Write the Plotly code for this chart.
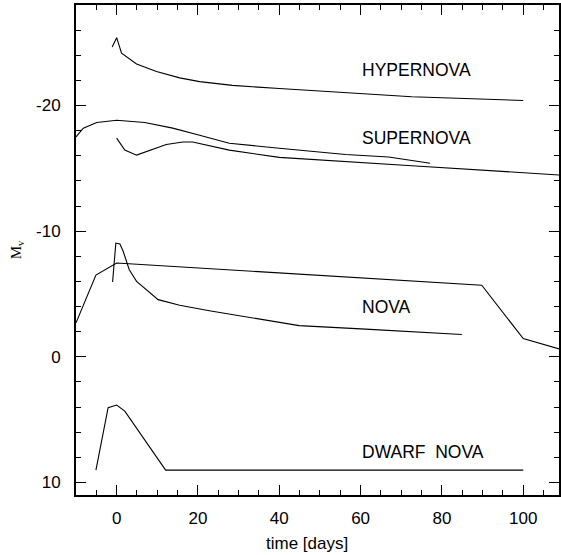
import plotly.graph_objects as go

# Hypernova
hyper_t = [-1.1, 0, 1.2, 4.9, 9.8, 15.5, 20.4, 28.5, 40, 56.3, 72.6, 100]
hyper_m = [-24.65, -25.4, -24.17, -23.3, -22.7, -22.2, -21.9, -21.6, -21.35, -21.0, -20.7, -20.4]

# Supernova (upper curve)
sn1_t = [-10, -8.2, -4.9, 0, 6.9, 13.8, 20.4, 27.7, 40, 47.3, 56.3, 66.9, 77.1]
sn1_m = [-17.5, -18.2, -18.65, -18.83, -18.65, -18.2, -17.64, -17.0, -16.6, -16.4, -16.1, -15.9, -15.4]

# Supernova (lower curve)
sn2_t = [0, 2.0, 4.9, 12.2, 16.3, 18.7, 27.7, 40, 72.6, 110]
sn2_m = [-17.4, -16.45, -16.05, -16.9, -17.1, -17.1, -16.45, -15.87, -15.2, -14.45]

# Nova (slow)
nova1_t = [-10, -5.1, 0, 20.4, 89.8, 100, 110]
nova1_m = [-2.7, -6.5, -7.46, -7.06, -5.7, -1.45, -0.52]

# Nova (fast)
nova2_t = [-1.0, -0.2, 0.8, 1.6, 3.1, 4.9, 10.2, 15.5, 22.8, 30.2, 44.9, 61.2, 84.9]
nova2_m = [-5.95, -9.05, -8.97, -8.4, -6.93, -6.0, -4.55, -4.1, -3.67, -3.28, -2.48, -2.2, -1.77]

# Dwarf nova
dwarf_t = [-5.1, -2.1, 0, 2.0, 12.05, 100]
dwarf_m = [9.02, 4.05, 3.84, 4.32, 9.02, 9.02]

labels = ["HYPERNOVA", "SUPERNOVA", "NOVA", "DWARF&nbsp; NOVA"]
label_t = [60, 60, 60, 60]
label_m = [-22.85, -17.4, -3.93, 7.56]

x_ticks = [0, 20, 40, 60, 80, 100]
x_ticktext = ["0", "20", "40", "60", "80", "100"]
y_ticks = [-20, -10, 0, 10]
y_ticktext = ["-20", "-10", "0", "10"]

fig = go.Figure()
for t, m in [(hyper_t, hyper_m), (sn1_t, sn1_m), (sn2_t, sn2_m),
             (nova1_t, nova1_m), (nova2_t, nova2_m), (dwarf_t, dwarf_m)]:
    fig.add_trace(go.Scatter(x=t, y=m, mode="lines",
                             line=dict(color="black", width=1.1),
                             showlegend=False, hoverinfo="skip"))

for txt, t, m in zip(labels, label_t, label_m):
    fig.add_annotation(x=t, y=m, text=txt, showarrow=False, xanchor="left",
                       yanchor="middle", font=dict(family="Liberation Sans", size=17.5, color="black"),
                       borderpad=0)

fig.add_annotation(x=46.8, y=-0.098, xref="x", yref="paper", text="time [days]",
                   showarrow=False, xanchor="center", yanchor="middle",
                   font=dict(family="Liberation Sans", size=17, color="black"))
fig.add_annotation(x=-0.1216, y=0.5, xref="paper", yref="paper", text="M<sub>v</sub>",
                   showarrow=False, textangle=-90, xanchor="center", yanchor="middle",
                   font=dict(family="Liberation Serif", size=15, color="black"))

axis_common = dict(showgrid=False, zeroline=False, showline=True, linecolor="black",
                   linewidth=2, ticks="inside", tickcolor="black", tickwidth=1,
                   ticklen=10, tickfont=dict(family="Liberation Sans", size=17, color="black"))

fig.update_xaxes(range=[-10, 108.8], tickvals=x_ticks, ticktext=x_ticktext, mirror="allticks",
                 ticklabelstandoff=7,
                 minor=dict(ticks="inside", ticklen=5, dtick=5, tick0=0, tickcolor="black", tickwidth=1),
                 **axis_common)
fig.update_yaxes(range=[11, -28], tickvals=y_ticks, ticktext=y_ticktext, mirror="ticks",
                 ticklabelstandoff=10,
                 minor=dict(ticks="inside", ticklen=5, dtick=2, tick0=0, tickcolor="black", tickwidth=1),
                 **axis_common)

fig.update_layout(width=561, height=555, margin=dict(l=76, r=0, t=5, b=60),
                  plot_bgcolor="white", paper_bgcolor="white")

fig.write_html("out.html", config={"displayModeBar": False},
               post_script="document.body.style.margin='0';document.body.style.overflow='hidden';")
